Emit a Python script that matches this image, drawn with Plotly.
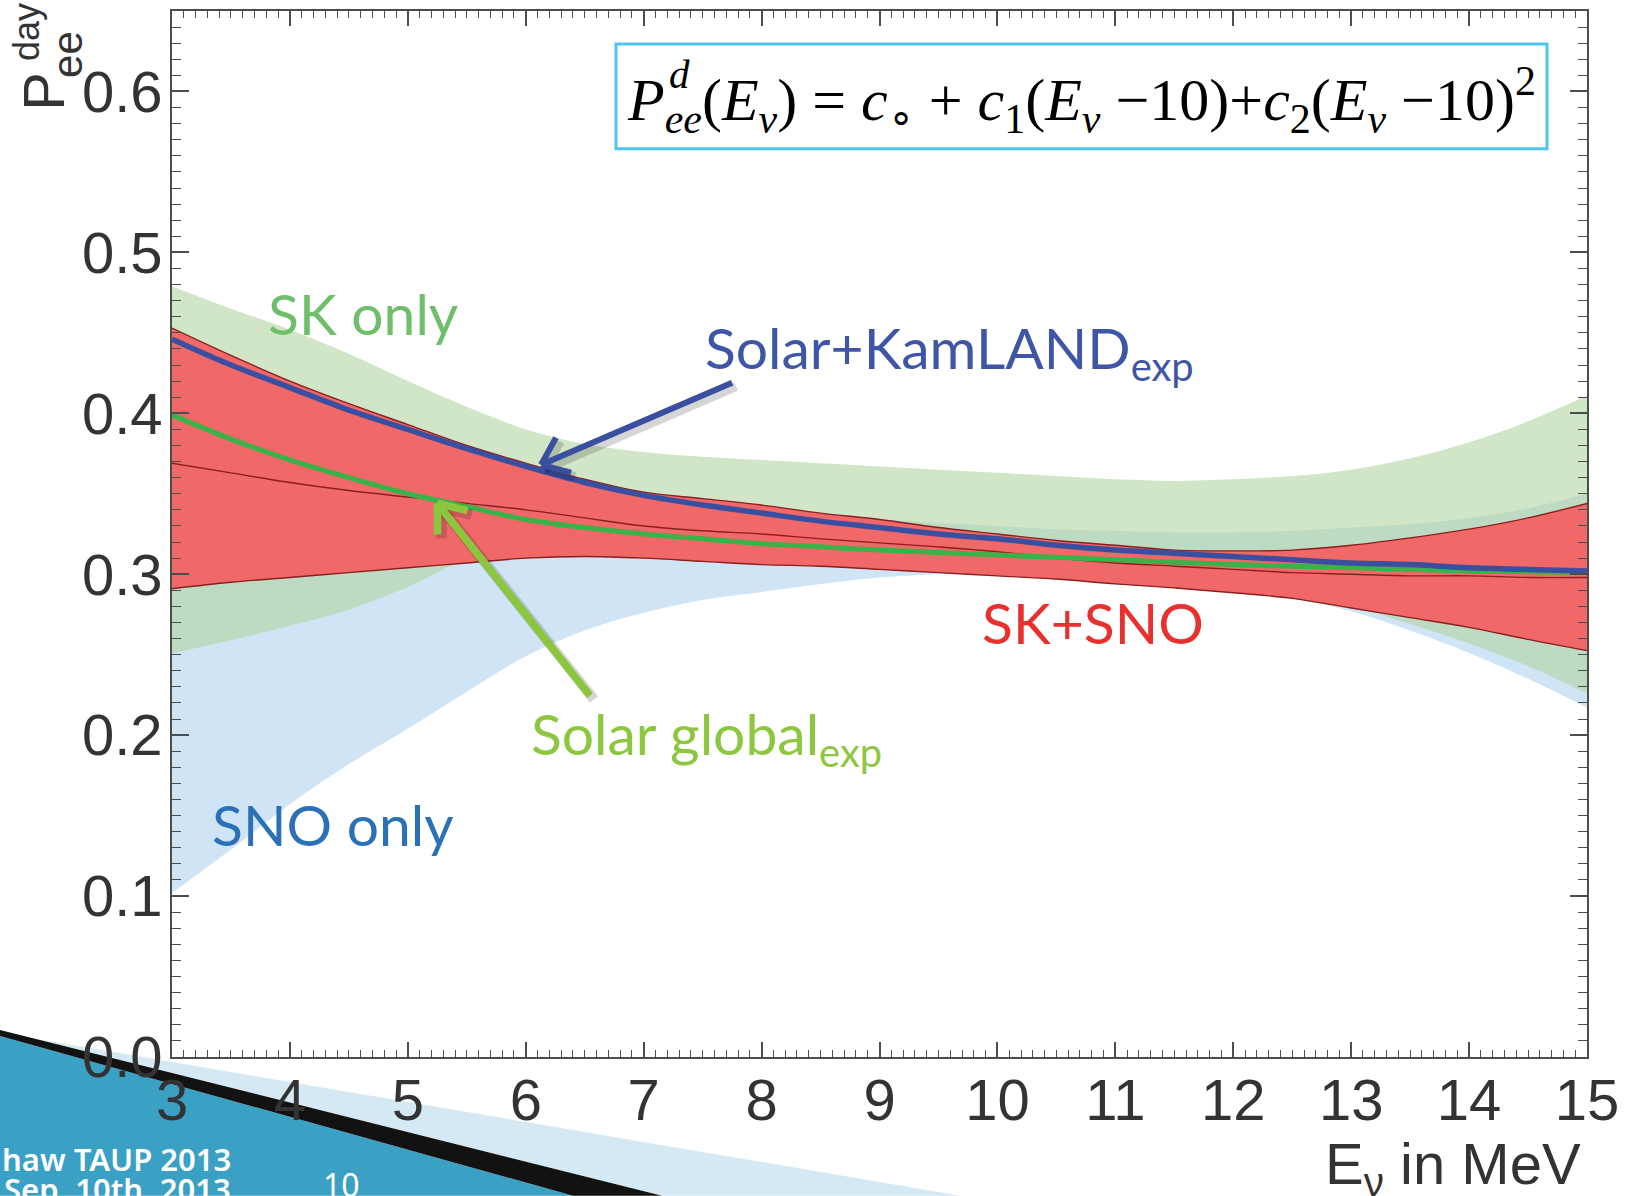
import math
import plotly.graph_objects as go

# ---------------- data: day-time survival probability vs neutrino energy ----------------
energy = [3.0, 3.5, 4.0, 4.5, 5.0, 5.5, 6.0, 6.5, 7.0, 7.5, 8.0, 8.5, 9.0,
          9.5, 10.0, 10.5, 11.0, 11.5, 12.0, 12.5, 13.0, 13.5, 14.0, 14.5, 15.0]

sk_upper = [0.479, 0.465, 0.452, 0.437, 0.420, 0.404, 0.390, 0.381, 0.376, 0.373, 0.371, 0.369, 0.367,
            0.365, 0.363, 0.361, 0.359, 0.358, 0.359, 0.361, 0.365, 0.372, 0.382, 0.395, 0.411]
sk_lower = [0.251, 0.259, 0.268, 0.278, 0.292, 0.309, 0.316, 0.320, 0.322, 0.323, 0.323, 0.322, 0.320,
            0.317, 0.314, 0.310, 0.305, 0.300, 0.294, 0.287, 0.280, 0.269, 0.257, 0.243, 0.226]

sno_upper = [0.400, 0.390, 0.381, 0.373, 0.365, 0.358, 0.352, 0.347, 0.343, 0.340, 0.338, 0.336, 0.334,
             0.332, 0.330, 0.328, 0.327, 0.326, 0.326, 0.327, 0.329, 0.331, 0.335, 0.341, 0.350]
sno_lower = [0.102, 0.129, 0.157, 0.182, 0.204, 0.227, 0.249, 0.265, 0.276, 0.284, 0.289, 0.294, 0.298,
             0.300, 0.301, 0.301, 0.299, 0.296, 0.292, 0.285, 0.277, 0.265, 0.251, 0.235, 0.217]

sksno_upper = [0.453, 0.436, 0.420, 0.406, 0.393, 0.380, 0.369, 0.359, 0.351, 0.347, 0.343, 0.338, 0.334,
               0.329, 0.325, 0.321, 0.318, 0.315, 0.3145, 0.315, 0.318, 0.3226, 0.328, 0.335, 0.344]
sksno_center = [0.369, 0.363, 0.357, 0.352, 0.348, 0.344, 0.340, 0.335, 0.330, 0.327, 0.325, 0.322, 0.3195,
                0.317, 0.314, 0.310, 0.307, 0.305, 0.303, 0.301, 0.300, 0.299, 0.299, 0.298, 0.298]
sksno_lower = [0.291, 0.295, 0.298, 0.301, 0.304, 0.307, 0.310, 0.311, 0.310, 0.308, 0.306, 0.305, 0.303,
               0.301, 0.299, 0.297, 0.294, 0.2915, 0.2885, 0.285, 0.279, 0.273, 0.267, 0.2595, 0.2525]

solar_kamland_exp = [0.446, 0.430, 0.416, 0.402, 0.390, 0.378, 0.367, 0.357, 0.349, 0.343, 0.338, 0.333, 0.329,
                     0.325, 0.322, 0.318, 0.315, 0.313, 0.311, 0.309, 0.307, 0.306, 0.304, 0.303, 0.302]
solar_global_exp = [0.399, 0.384, 0.371, 0.360, 0.350, 0.342, 0.334, 0.329, 0.325, 0.322, 0.319, 0.317, 0.315,
                    0.3135, 0.312, 0.3105, 0.309, 0.3075, 0.306, 0.305, 0.304, 0.303, 0.302, 0.3015, 0.301]

x_tick_vals = [3, 4, 5, 6, 7, 8, 9, 10, 11, 12, 13, 14, 15]
y_tick_vals = [0.0, 0.1, 0.2, 0.3, 0.4, 0.5, 0.6]
y_tick_text = ["0.0", "0.1", "0.2", "0.3", "0.4", "0.5", "0.6"]

# arrow anchors in data units: (tail, head)
kamland_arrow = ((7.75, 0.419), (6.13, 0.368))
global_arrow = ((6.545, 0.2246), (5.25, 0.344))

# ---------------- geometry ----------------
W, H = 1632, 1196
ML, MR, MT, MB = 172, 45, 9, 139
PW, PH = W - ML - MR, H - MT - MB
X_RANGE = (3.0, 15.0)
Y_RANGE = (0.0, 0.65)

AXIS_GREY = "#4d4d4d"
TEXT_GREY = "#333333"
SNO_FILL = "rgb(207,228,244)"
SK_FILL = "rgba(176,214,160,0.6)"
RED_FILL = "rgb(240,104,104)"
RED_EDGE = "rgb(140,30,30)"
BLUE = "rgb(58,79,160)"
GREEN = "rgb(58,178,74)"


def paper(px, py):
    """pixel position in the page -> paper coordinates"""
    return (px - ML) / PW, (H - MB - py) / PH


def to_px(e, p):
    return (ML + (e - X_RANGE[0]) / (X_RANGE[1] - X_RANGE[0]) * PW,
            H - MB - (p - Y_RANGE[0]) / (Y_RANGE[1] - Y_RANGE[0]) * PH)


def to_data(px, py):
    return (X_RANGE[0] + (px - ML) / PW * (X_RANGE[1] - X_RANGE[0]),
            Y_RANGE[0] + (H - MB - py) / PH * (Y_RANGE[1] - Y_RANGE[0]))


fig = go.Figure()


def band(lower, upper, fill, edge=None, edge_w=0):
    fig.add_trace(go.Scatter(x=energy, y=lower, mode="lines", showlegend=False, hoverinfo="skip",
                             line=dict(color=edge or "rgba(0,0,0,0)", width=edge_w, shape="spline")))
    fig.add_trace(go.Scatter(x=energy, y=upper, mode="lines", fill="tonexty", fillcolor=fill,
                             showlegend=False, hoverinfo="skip",
                             line=dict(color=edge or "rgba(0,0,0,0)", width=edge_w, shape="spline")))


band(sno_lower, sno_upper, SNO_FILL)
band(sk_lower, sk_upper, SK_FILL)
band(sksno_lower, sksno_upper, RED_FILL, RED_EDGE, 1.4)
fig.add_trace(go.Scatter(x=energy, y=sksno_center, mode="lines", showlegend=False,
                         line=dict(color=RED_EDGE, width=1.4, shape="spline")))
fig.add_trace(go.Scatter(x=energy, y=solar_global_exp, mode="lines", showlegend=False,
                         line=dict(color=GREEN, width=5, shape="spline")))
fig.add_trace(go.Scatter(x=energy, y=solar_kamland_exp, mode="lines", showlegend=False,
                         line=dict(color=BLUE, width=5.5, shape="spline")))

shapes = []


# ---------------- arrows with a soft drop shadow ----------------
def arrow(tail, head, color, width):
    tx, ty = to_px(*tail)
    hx, hy = to_px(*head)
    L = math.hypot(tx - hx, ty - hy)
    ux, uy = (tx - hx) / L, (ty - hy) / L
    arms = []
    for ang in (math.radians(38), math.radians(-38)):
        c, s = math.cos(ang), math.sin(ang)
        arms.append((hx + 31 * (c * ux - s * uy), hy + 31 * (s * ux + c * uy)))
    for dx, dy, col, w in ((4, 4, "rgba(0,0,0,0.16)", width + 3), (0, 0, color, width)):
        segs = [((tx, ty), (hx, hy)), (arms[0], (hx, hy)), (arms[1], (hx, hy))]
        for (x0, y0), (x1, y1) in segs:
            a = to_data(x0 + dx, y0 + dy)
            b = to_data(x1 + dx, y1 + dy)
            shapes.append(dict(type="line", xref="x", yref="y", x0=a[0], y0=a[1], x1=b[0], y1=b[1],
                               line=dict(color=col, width=w), layer="above"))


arrow(*kamland_arrow, BLUE, 6)
arrow(*global_arrow, "rgb(140,198,63)", 7.5)

# ---------------- formula box ----------------
bx0, by0 = paper(616, 147)
bx1, by1 = paper(1547, 42)
shapes.append(dict(type="rect", xref="paper", yref="paper", x0=bx0, y0=by0, x1=bx1, y1=by1,
                   line=dict(color="rgb(80,195,240)", width=3), fillcolor="white", layer="above"))

# ---------------- slide decoration in the lower-left corner ----------------
def poly(points, color):
    pts = [paper(px, py) for px, py in points]
    path = "M " + " L ".join(f"{x:.5f},{y:.5f}" for x, y in pts) + " Z"
    shapes.append(dict(type="path", xref="paper", yref="paper", path=path,
                       fillcolor=color, line=dict(width=0), layer="below"))


poly([(31, 1038), (960, 1196), (662, 1196)], "rgb(212,233,243)")
poly([(0, 1036), (573, 1196), (0, 1196)], "rgb(58,160,196)")
poly([(0, 1030), (662, 1196), (573, 1196), (0, 1036)], "rgb(18,18,18)")

annotations = []


def text_at(px, py, txt, size, color, family, xanchor="center", yanchor="middle", angle=0, weight=None):
    x, y = paper(px, py)
    f = dict(size=size, color=color, family=family)
    if weight:
        f["weight"] = weight
    annotations.append(dict(x=x, y=y, xref="paper", yref="paper", text=txt, showarrow=False,
                            xanchor=xanchor, yanchor=yanchor, textangle=angle, font=f))


SANS = "Liberation Sans, Arial, sans-serif"
LABEL = "Lato, Open Sans, sans-serif"
SERIF = "Liberation Serif, Times New Roman, serif"

# formula
text_at(1081, 98,
        "<i>P</i><sub><i>ee</i></sub>(<i>E</i><sub><i>ν</i></sub>) = <i>c</i><sub>∘</sub> + "
        "<i>c</i><sub>1</sub>(<i>E</i><sub><i>ν</i></sub> −10)+<i>c</i><sub>2</sub>"
        "(<i>E</i><sub><i>ν</i></sub> −10)<sup>2</sup>",
        60, "black", SERIF)
text_at(679, 72, "<i>d</i>", 41, "black", SERIF)

# band / curve labels
text_at(363, 312, "SK only", 57, "rgb(110,190,106)", LABEL)
text_at(703, 350, "Solar+KamLAND<sub>exp</sub>", 57, "rgb(63,85,165)", LABEL, xanchor="left")
text_at(1093, 621, "SK+SNO", 57, "rgb(232,48,47)", LABEL)
text_at(529, 736, "Solar global<sub>exp</sub>", 57, "rgb(141,198,63)", LABEL, xanchor="left")
text_at(333, 824, "SNO only", 57, "rgb(42,113,184)", LABEL)

# axis titles
text_at(44, 90, "P", 58, TEXT_GREY, SANS, angle=-90)
text_at(68, 53, "ee", 42, TEXT_GREY, SANS, angle=-90)
text_at(27, 30, "day", 36, TEXT_GREY, SANS, angle=-90)
text_at(1583, 1168, "E<sub>ν</sub> in MeV", 58, TEXT_GREY, SANS, xanchor="right")

# footer text of the slide
text_at(0, 1159, "haw TAUP 2013", 31, "white", "Noto Sans, sans-serif", xanchor="left", weight=600)
text_at(2, 1189, "Sep. 10th, 2013", 31, "white", "Noto Sans, sans-serif", xanchor="left", weight=600)
text_at(341, 1185, "10", 32, "white", "Noto Sans, sans-serif")

axis_common = dict(showgrid=False, zeroline=False, showline=True, linecolor=AXIS_GREY, linewidth=1.5,
                   mirror="ticks", ticks="inside", tickcolor=AXIS_GREY, tickwidth=1.5,
                   tickfont=dict(size=58, color=TEXT_GREY, family=SANS))

fig.update_layout(
    width=W, height=H,
    margin=dict(l=ML, r=MR, t=MT, b=MB),
    paper_bgcolor="white", plot_bgcolor="white",
    xaxis=dict(range=list(X_RANGE), tickvals=x_tick_vals, ticklen=15, ticklabelstandoff=-8,
               minor=dict(dtick=0.1, ticklen=7, ticks="inside", tickcolor=AXIS_GREY, tickwidth=1.2),
               **axis_common),
    yaxis=dict(range=list(Y_RANGE), tickvals=y_tick_vals, ticktext=y_tick_text, ticklen=17,
               ticklabelstandoff=-4,
               minor=dict(dtick=0.01, ticklen=9, ticks="inside", tickcolor=AXIS_GREY, tickwidth=1.2),
               **axis_common),
    shapes=shapes,
    annotations=annotations,
)

fig.write_html("out.html")
